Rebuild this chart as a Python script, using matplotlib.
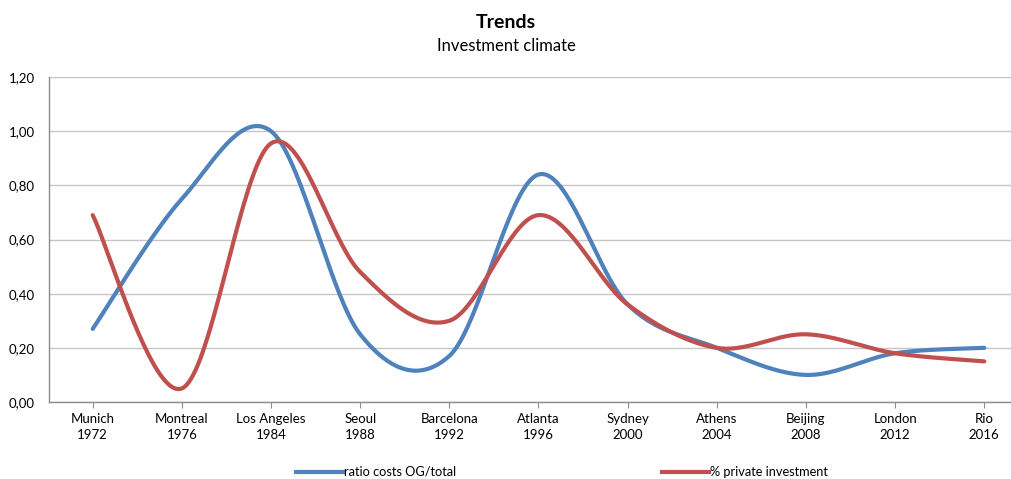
import numpy as np
import matplotlib
matplotlib.use("Agg")
import matplotlib.pyplot as plt
from matplotlib.lines import Line2D
from matplotlib.ticker import FuncFormatter

cities = ["Munich", "Montreal", "Los Angeles", "Seoul", "Barcelona", "Atlanta",
          "Sydney", "Athens", "Beijing", "London", "Rio"]
years = ["1972", "1976", "1984", "1988", "1992", "1996",
         "2000", "2004", "2008", "2012", "2016"]
ratio_costs = [0.27, 0.75, 1.00, 0.25, 0.17, 0.84, 0.36, 0.20, 0.10, 0.18, 0.20]
private_inv = [0.69, 0.05, 0.955, 0.48, 0.30, 0.69, 0.36, 0.20, 0.25, 0.18, 0.15]

BLUE = "#4F81BD"
RED = "#C0504D"
FONT = "Lato"


def smooth(y, steps=40):
    # Excel-like smoothed line: cubic Bezier between points, Catmull-Rom control points
    y = np.asarray(y, dtype=float)
    x = np.arange(len(y), dtype=float)
    pts = np.column_stack([x, y])
    out = []
    n = len(pts)
    t = np.linspace(0, 1, steps)
    for i in range(n - 1):
        p0 = pts[i - 1] if i > 0 else pts[i]
        p1 = pts[i]
        p2 = pts[i + 1]
        p3 = pts[i + 2] if i + 2 < n else pts[i + 1]
        c1 = p1 + (p2 - p0) / 6.0
        c2 = p2 - (p3 - p1) / 6.0
        seg = ((1 - t) ** 3)[:, None] * p1 + (3 * (1 - t) ** 2 * t)[:, None] * c1 \
            + (3 * (1 - t) * t ** 2)[:, None] * c2 + (t ** 3)[:, None] * p2
        out.append(seg if i == 0 else seg[1:])
    seg = np.vstack(out)
    return seg[:, 0], seg[:, 1]


W, H = 1012, 479
fig = plt.figure(figsize=(W / 100, H / 100), dpi=100)
left, right, top, bottom = 49, 1028, 77, 402
ax = fig.add_axes([left / W, 1 - bottom / H, (right - left) / W, (bottom - top) / H])

for vals, col in [(ratio_costs, BLUE), (private_inv, RED)]:
    sx, sy = smooth(vals)
    ax.plot(sx, sy, color=col, lw=3.0, solid_capstyle="round", zorder=3)

ax.set_xlim(-0.49, 10.49)
ax.set_ylim(0, 1.2)
ax.set_yticks(np.arange(0, 1.21, 0.2))
ax.yaxis.set_major_formatter(FuncFormatter(lambda v, p: f"{v:.2f}".replace(".", ",")))
ax.set_xticks(range(len(cities)))
ax.set_xticklabels([f"{c}\n{y}" for c, y in zip(cities, years)],
                   fontsize=9.5, family=FONT, linespacing=1.35)
for lab in ax.get_yticklabels():
    lab.set_family(FONT)
    lab.set_fontsize(9.5)

ax.grid(axis="y", color="#C6C6C6", lw=1.0)
ax.set_axisbelow(True)
for s in ["top", "right"]:
    ax.spines[s].set_visible(False)
for s in ["left", "bottom"]:
    ax.spines[s].set_color("#8C8C8C")
    ax.spines[s].set_linewidth(1.0)
ax.tick_params(axis="x", length=4, color="#8C8C8C", pad=4, colors="#000000")
ax.tick_params(axis="y", length=0, pad=10)

fig.text(0.5, 1 - 22 / H, "Trends", ha="center", va="center",
         fontsize=14, fontweight="bold", family=FONT)
fig.text(0.5, 1 - 46 / H, "Investment climate", ha="center", va="center",
         fontsize=12, family=FONT)

for label, col, x0 in [("ratio costs OG/total", BLUE, 296), ("% private investment", RED, 662)]:
    h = Line2D([], [], color=col, lw=3.0)
    fig.legend(handles=[h], labels=[label], loc="center left",
               bbox_to_anchor=(x0 / W, 1 - 472 / H), frameon=False,
               borderpad=0, borderaxespad=0, handlelength=3.7, handletextpad=0.05,
               prop={"family": FONT, "size": 9.2})

fig.savefig("out.png", dpi=100)
